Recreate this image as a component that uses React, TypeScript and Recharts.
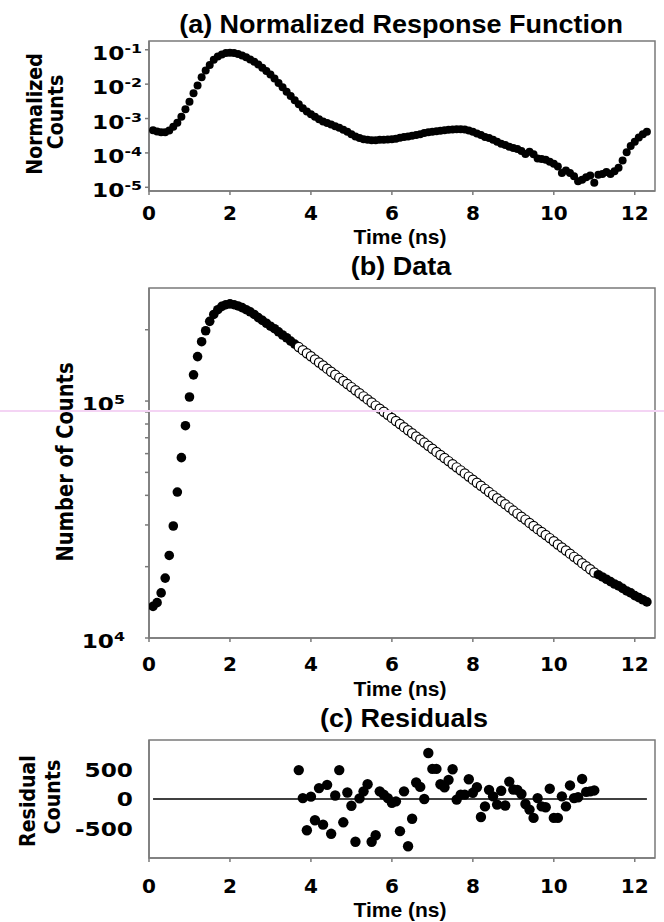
import React from "react";
import { ScatterChart, Scatter, XAxis, YAxis, ReferenceArea, ReferenceLine } from "recharts";

// time channels (ns), 0.1 ns per channel
const TIME = [
  0.1, 0.2, 0.3, 0.4, 0.5, 0.6, 0.7, 0.8, 0.9, 1.0,
  1.1, 1.2, 1.3, 1.4, 1.5, 1.6, 1.7, 1.8, 1.9, 2.0,
  2.1, 2.2, 2.3, 2.4, 2.5, 2.6, 2.7, 2.8, 2.9, 3.0,
  3.1, 3.2, 3.3, 3.4, 3.5, 3.6, 3.7, 3.8, 3.9, 4.0,
  4.1, 4.2, 4.3, 4.4, 4.5, 4.6, 4.7, 4.8, 4.9, 5.0,
  5.1, 5.2, 5.3, 5.4, 5.5, 5.6, 5.7, 5.8, 5.9, 6.0,
  6.1, 6.2, 6.3, 6.4, 6.5, 6.6, 6.7, 6.8, 6.9, 7.0,
  7.1, 7.2, 7.3, 7.4, 7.5, 7.6, 7.7, 7.8, 7.9, 8.0,
  8.1, 8.2, 8.3, 8.4, 8.5, 8.6, 8.7, 8.8, 8.9, 9.0,
  9.1, 9.2, 9.3, 9.4, 9.5, 9.6, 9.7, 9.8, 9.9, 10.0,
  10.1, 10.2, 10.3, 10.4, 10.5, 10.6, 10.7, 10.8, 10.9, 11.0,
  11.1, 11.2, 11.3, 11.4, 11.5, 11.6, 11.7, 11.8, 11.9, 12.0,
  12.1, 12.2, 12.3,
];

// (a) normalized instrument response
const RESPONSE = [
  4.6e-4, 4.2e-4, 4.0e-4, 4.0e-4, 4.5e-4, 5.8e-4, 7.6e-4, 1.12e-3, 1.87e-3, 3.1e-3,
  5.4e-3, 9.1e-3, 1.58e-2, 2.5e-2, 3.6e-2, 5.1e-2, 6.4e-2, 7.3e-2, 8.0e-2, 8.2e-2,
  8.0e-2, 7.5e-2, 6.8e-2, 6.1e-2, 5.2e-2, 4.5e-2, 3.7e-2, 3.0e-2, 2.4e-2, 1.9e-2,
  1.45e-2, 1.08e-2, 8.1e-3, 6.0e-3, 4.5e-3, 3.4e-3, 2.6e-3, 2.0e-3, 1.6e-3, 1.34e-3,
  1.12e-3, 9.5e-4, 8.2e-4, 7.4e-4, 6.7e-4, 6.0e-4, 5.4e-4, 4.7e-4, 4.1e-4, 3.5e-4,
  3.0e-4, 2.7e-4, 2.5e-4, 2.4e-4, 2.35e-4, 2.35e-4, 2.4e-4, 2.4e-4, 2.45e-4, 2.5e-4,
  2.6e-4, 2.75e-4, 2.9e-4, 3.0e-4, 3.15e-4, 3.3e-4, 3.5e-4, 3.8e-4, 4.0e-4, 4.1e-4,
  4.3e-4, 4.4e-4, 4.6e-4, 4.7e-4, 4.8e-4, 4.9e-4, 4.9e-4, 4.8e-4, 4.5e-4, 4.1e-4,
  3.7e-4, 3.3e-4, 2.9e-4, 2.7e-4, 2.4e-4, 2.1e-4, 1.85e-4, 1.7e-4, 1.5e-4, 1.4e-4,
  1.3e-4, 1.13e-4, 9.3e-5, 1.08e-4, 9.1e-5, 6.9e-5, 6.6e-5, 6.3e-5, 5.5e-5, 4.8e-5,
  4.0e-5, 2.6e-5, 3.1e-5, 2.6e-5, 2.1e-5, 1.5e-5, 1.67e-5, 1.95e-5, 2.2e-5, 1.35e-5,
  2.3e-5, 2.45e-5, 2.8e-5, 2.45e-5, 2.95e-5, 3.7e-5, 6.0e-5, 1.05e-4, 1.58e-4, 2.1e-4,
  2.8e-4, 3.5e-4, 4.1e-4,
];

// (b) measured decay counts
const COUNTS = [
  13600, 14100, 15500, 17900, 22300, 29700, 41300, 57700, 78700, 104000,
  129000, 154000, 178000, 198000, 217000, 232000, 243000, 251000, 255000, 257000,
  255000, 252000, 248000, 243000, 238000, 232000, 225000, 219000, 213000, 207000,
  202000, 196000, 190000, 185000, 179000, 174000, 169000, 164000, 159200, 154500,
  149900, 145500, 141200, 137000, 133000, 129100, 125300, 121600, 118000, 114500,
  111100, 107900, 104700, 101600, 98600, 95700, 92900, 90100, 87500, 84900,
  82400, 80000, 77600, 75300, 73100, 70900, 68800, 66800, 64800, 62900,
  61000, 59200, 57500, 55800, 54100, 52500, 51000, 49500, 48000, 46600,
  45200, 43900, 42600, 41300, 40100, 38900, 37800, 36700, 35600, 34500,
  33500, 32500, 31600, 30600, 29700, 28800, 28000, 27200, 26400, 25600,
  24800, 24100, 23400, 22700, 22000, 21400, 20700, 20100, 19500, 18900,
  18500, 18100, 17700, 17300, 16900, 16600, 16200, 15800, 15500, 15100,
  14800, 14500, 14200,
];

// (c) residuals over the fit window
const FIT_START = 3.7;
const FIT_END = 11.0;
const RESIDUALS = [
  490, 15, -530, 40, -360, 185, -435, 240, -590, 60,
  490, -395, 110, -115, -725, 10, 130, 250, -725, -615,
  130, 75, 15, -65, -40, -545, 130, -800, -335, 280,
  205, 0, 780, 510, 510, 250, 200, 325, 505, -10,
  75, 75, 335, 105, 200, -305, -125, 155, 45, -95,
  140, -110, 295, 160, 155, 85, -85, -180, -320, 15,
  -125, -140, 175, -320, -320, 45, -125, 230, 15, 30,
  340, 120, 130, 145,
];

const X_TICKS = [0, 2, 4, 6, 8, 10, 12];
const RESPONSE_TICKS = [1e-5, 1e-4, 1e-3, 1e-2, 1e-1];
const COUNT_TICKS = [1e4, 2e4, 3e4, 4e4, 5e4, 6e4, 7e4, 8e4, 9e4, 1e5, 2e5];
const RESIDUAL_TICKS = [-500, 0, 500];

const X_DOMAIN: [number, number] = [0, 12.5];
const RESP_DOMAIN: [number, number] = [7.8e-6, 0.18];
const COUNT_DOMAIN: [number, number] = [1e4, 3e5];
const RESID_DOMAIN: [number, number] = [-1000, 1000];

const inFit = (t: number) => t >= FIT_START - 1e-9 && t <= FIT_END + 1e-9;

const responseData = TIME.map((t, i) => ({ t, v: RESPONSE[i] }));
const countData = TIME.map((t, i) => ({ t, v: COUNTS[i] }));
const countsBefore = countData.filter((d) => d.t < FIT_START - 1e-9);
const countsFit = countData.filter((d) => inFit(d.t));
const countsAfter = countData.filter((d) => d.t > FIT_END + 1e-9);
const residualData = TIME.filter(inFit).map((t, i) => ({ t, v: RESIDUALS[i] }));

const GRAY = "#7a7a7a";
const AXIS = { stroke: GRAY, strokeWidth: 1.5 };
const TICK_FONT = "DejaVu Sans";
const Y_STRETCH = 1.22;

const dot = (r: number) => (p: any) => <circle cx={p.cx} cy={p.cy} r={r} fill="#000" />;
const ring = (r: number) => (p: any) => (
  <circle cx={p.cx} cy={p.cy} r={r} fill="#fff" stroke="#000" strokeWidth={1.2} />
);

const xTick = (dy: number) => (p: any) => (
  <text
    x={p.x}
    y={p.y + dy}
    textAnchor="middle"
    dominantBaseline="central"
    fontFamily={TICK_FONT}
    fontWeight="bold"
    fontSize={20}
    fill="#000"
  >
    {p.payload.value}
  </text>
);

const powTick = (dy: number) => (p: any) => {
  const e = Math.log10(p.payload.value);
  const n = Math.round(e);
  if (Math.abs(e - n) > 1e-6) return <g />;
  return (
    <text
      transform={`translate(${p.x},${p.y + dy}) scale(${Y_STRETCH},1)`}
      textAnchor="end"
      fontFamily={TICK_FONT}
      fontWeight="bold"
      fontSize={19}
      fill="#000"
    >
      10<tspan dy={-7} fontSize={13}>{n}</tspan>
    </text>
  );
};

const numTick = (dy: number) => (p: any) => (
  <text
    transform={`translate(${p.x},${p.y + dy}) scale(${Y_STRETCH},1)`}
    textAnchor="end"
    fontFamily={TICK_FONT}
    fontWeight="bold"
    fontSize={19}
    fill="#000"
  >
    {p.payload.value}
  </text>
);

function Txt({ x, y, text, size, font, sx = 1, rotate = false }: any) {
  const tr = `translate(${x},${y}) scale(${sx},1)${rotate ? " rotate(-90)" : ""}`;
  return (
    <text
      transform={tr}
      textAnchor="middle"
      dominantBaseline={rotate ? "central" : undefined}
      fontFamily={font}
      fontWeight="bold"
      fontSize={size}
      fill="#000"
    >
      {text}
    </text>
  );
}

const TITLE_FONT = "Liberation Sans";
const LABEL_FONT = "DejaVu Sans";

export default function App() {
  return (
    <div style={{ position: "absolute", left: 0, top: 0, width: 664, height: 922, background: "#fff", overflow: "hidden" }}>
      <div style={{ position: "absolute", left: 0, top: 0 }}>
        <ScatterChart width={664} height={250} margin={{ top: 41, right: 9, bottom: 0, left: 0 }}>
          <XAxis type="number" dataKey="t" domain={X_DOMAIN} ticks={X_TICKS} allowDataOverflow interval={0}
            height={59} tickSize={4} axisLine={AXIS} tickLine={AXIS} tick={xTick(16)} />
          <YAxis type="number" dataKey="v" scale="log" domain={RESP_DOMAIN} ticks={RESPONSE_TICKS} allowDataOverflow interval={0}
            width={149} tickSize={4} tickMargin={3} axisLine={AXIS} tickLine={AXIS} tick={powTick(10)} />
          <ReferenceArea x1={X_DOMAIN[0]} x2={X_DOMAIN[1]} y1={RESP_DOMAIN[0]} y2={RESP_DOMAIN[1]} fill="none" stroke={GRAY} strokeWidth={1.5} />
          <Scatter data={responseData} isAnimationActive={false} shape={dot(4)} />
        </ScatterChart>
      </div>

      <div style={{ position: "absolute", left: 0, top: 250 }}>
        <ScatterChart width={664} height={440} margin={{ top: 38, right: 9, bottom: 0, left: 0 }}>
          <XAxis type="number" dataKey="t" domain={X_DOMAIN} ticks={X_TICKS} allowDataOverflow interval={0}
            height={52} tickSize={4} axisLine={AXIS} tickLine={AXIS} tick={xTick(20)} />
          <YAxis type="number" dataKey="v" scale="log" domain={COUNT_DOMAIN} ticks={COUNT_TICKS} allowDataOverflow interval={0}
            width={149} tickSize={4} tickMargin={20} axisLine={AXIS} tickLine={AXIS} tick={powTick(10)} />
          <ReferenceArea x1={X_DOMAIN[0]} x2={X_DOMAIN[1]} y1={COUNT_DOMAIN[0]} y2={COUNT_DOMAIN[1]} fill="none" stroke={GRAY} strokeWidth={1.5} />
          <Scatter data={countsBefore} isAnimationActive={false} shape={dot(4.8)} />
          <Scatter data={countsFit} isAnimationActive={false} shape={ring(4.6)} />
          <Scatter data={countsAfter} isAnimationActive={false} shape={dot(4.8)} />
        </ScatterChart>
      </div>

      <div style={{ position: "absolute", left: 0, top: 690 }}>
        <ScatterChart width={664} height={232} margin={{ top: 50, right: 9, bottom: 0, left: 0 }}>
          <XAxis type="number" dataKey="t" domain={X_DOMAIN} ticks={X_TICKS} allowDataOverflow interval={0}
            height={64} tickSize={4} axisLine={AXIS} tickLine={AXIS} tick={xTick(22)} />
          <YAxis type="number" dataKey="v" domain={RESID_DOMAIN} ticks={RESIDUAL_TICKS} allowDataOverflow interval={0}
            width={149} tickSize={0} tickMargin={16} axisLine={AXIS} tickLine={false} tick={numTick(7)} />
          <ReferenceArea x1={X_DOMAIN[0]} x2={X_DOMAIN[1]} y1={RESID_DOMAIN[0]} y2={RESID_DOMAIN[1]} fill="none" stroke={GRAY} strokeWidth={1.5} />
          <ReferenceLine segment={[{ x: TIME[0], y: 0 }, { x: TIME[TIME.length - 1], y: 0 }]} stroke="#000" strokeWidth={1.5} />
          <Scatter data={residualData} isAnimationActive={false} shape={dot(5.2)} />
        </ScatterChart>
      </div>

      <div style={{ position: "absolute", left: 0, top: 410, width: 664, height: 2, background: "#f4d4f4" }} />

      <svg width={664} height={922} style={{ position: "absolute", left: 0, top: 0, pointerEvents: "none" }}>
        <Txt x={401} y={33} text="(a) Normalized Response Function" size={25} font={TITLE_FONT} sx={1.08} />
        <Txt x={400} y={244} text="Time (ns)" size={21} font={TITLE_FONT} />
        <Txt x={401} y={275} text="(b) Data" size={25} font={TITLE_FONT} sx={1.08} />
        <Txt x={400} y={696} text="Time (ns)" size={21} font={TITLE_FONT} />
        <Txt x={404} y={727} text="(c) Residuals" size={25} font={TITLE_FONT} sx={1.08} />
        <Txt x={400} y={917} text="Time (ns)" size={21} font={TITLE_FONT} />

        <Txt x={35} y={114} text="Normalized" size={19} font={LABEL_FONT} sx={1.15} rotate />
        <Txt x={56} y={112} text="Counts" size={19} font={LABEL_FONT} sx={1.15} rotate />
        <Txt x={65} y={462} text="Number of Counts" size={19.5} font={LABEL_FONT} sx={1.15} rotate />
        <Txt x={28} y={801} text="Residual" size={19} font={LABEL_FONT} sx={1.15} rotate />
        <Txt x={53} y={797} text="Counts" size={19} font={LABEL_FONT} sx={1.15} rotate />
      </svg>
    </div>
  );
}
